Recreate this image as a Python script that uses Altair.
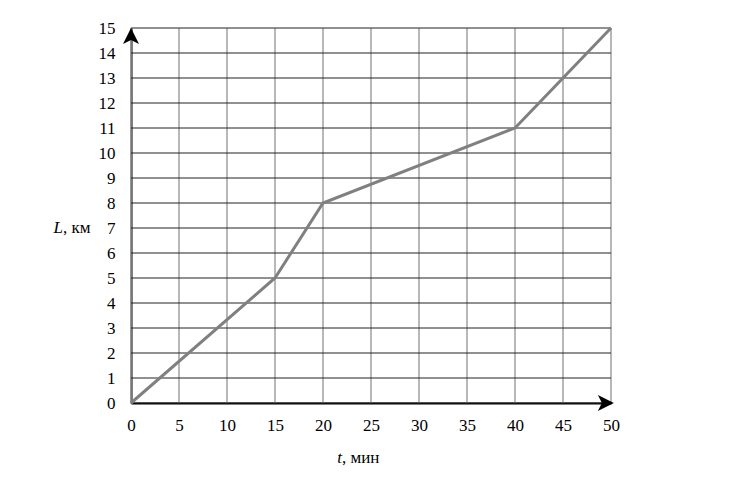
import altair as alt
import pandas as pd

t_values = [0, 15, 20, 40, 50]
L_values = [0, 5, 8, 11, 15]
x_ticks = [0, 5, 10, 15, 20, 25, 30, 35, 40, 45, 50]
y_ticks = list(range(0, 16))

FONT = "Liberation Serif"
FS = 17

df = pd.DataFrame({"t": t_values, "L": L_values})

xs = alt.Scale(domain=[0, 50], nice=False, zero=False)
ys = alt.Scale(domain=[0, 15], nice=False, zero=False)

x_axis = alt.Axis(
    values=x_ticks, grid=False, ticks=False, title=None,
    domainColor="#000000", domainWidth=2,
    labelFont=FONT, labelFontSize=FS, labelColor="#000000",
    labelPadding=14, labelOverlap=False, labelFlush=False, labelBound=False,
)
y_axis = alt.Axis(
    values=y_ticks, grid=False, ticks=False, title=None,
    domainColor="#000000", domainWidth=2,
    labelFont=FONT, labelFontSize=FS, labelColor="#000000",
    labelPadding=16, labelAlign="right", labelBaseline="middle",
    labelOverlap=False, labelFlush=False, labelBound=False,
)

ygrid = alt.Chart(pd.DataFrame({"L": y_ticks})).mark_rule(color="#222222", strokeWidth=1).encode(
    y=alt.Y("L:Q", scale=ys, axis=y_axis), x=alt.value(0), x2=alt.value(480)
)
xgrid = alt.Chart(pd.DataFrame({"t": x_ticks})).mark_rule(color="#a0a0a0", strokeWidth=1.5).encode(
    x=alt.X("t:Q", scale=xs, axis=x_axis), y=alt.value(0), y2=alt.value(375)
)

line = alt.Chart(df).mark_line(color="#808080", strokeWidth=3).encode(
    x=alt.X("t:Q", scale=xs, axis=x_axis),
    y=alt.Y("L:Q", scale=ys, axis=y_axis),
)

up_arrow = "M0,0 L1,2 L0,1.5 L-1,2 Z"
right_arrow = "M0,0 L-2,-1 L-1.5,0 L-2,1 Z"

arr_up = alt.Chart(pd.DataFrame({"t": [0], "L": [15]})).mark_point(
    shape=up_arrow, filled=True, color="#000000", size=256, opacity=1
).encode(x=alt.X("t:Q", scale=xs, axis=x_axis), y=alt.Y("L:Q", scale=ys, axis=y_axis))

arr_right = alt.Chart(pd.DataFrame({"t": [50.3], "L": [0]})).mark_point(
    shape=right_arrow, filled=True, color="#000000", size=256, opacity=1
).encode(x=alt.X("t:Q", scale=xs, axis=x_axis), y=alt.Y("L:Q", scale=ys, axis=y_axis))

dummy = alt.Chart(pd.DataFrame({"a": [0]}))

t_it = dummy.mark_text(font=FONT, fontSize=FS, fontStyle="italic", align="right", baseline="middle", color="#000000").encode(
    x=alt.value(211), y=alt.value(430), text=alt.value("t")
)
t_rest = dummy.mark_text(font=FONT, fontSize=FS, align="left", baseline="middle", color="#000000").encode(
    x=alt.value(211), y=alt.value(430), text=alt.value(", мин")
)
L_it = dummy.mark_text(font=FONT, fontSize=FS, fontStyle="italic", align="right", baseline="middle", color="#000000").encode(
    x=alt.value(-68), y=alt.value(200), text=alt.value("L")
)
L_rest = dummy.mark_text(font=FONT, fontSize=FS, align="left", baseline="middle", color="#000000").encode(
    x=alt.value(-68), y=alt.value(200), text=alt.value(", км")
)

chart = alt.layer(xgrid, ygrid, line, arr_up, arr_right, t_it, t_rest, L_it, L_rest).properties(
    width=480,
    height=375,
    padding={"left": 123, "top": 20, "right": 123, "bottom": 81},
    autosize=alt.AutoSizeParams(type="none"),
    background="#ffffff",
).configure_view(strokeWidth=0)

chart.save("out.html", embed_options={"renderer": "svg", "actions": False})
